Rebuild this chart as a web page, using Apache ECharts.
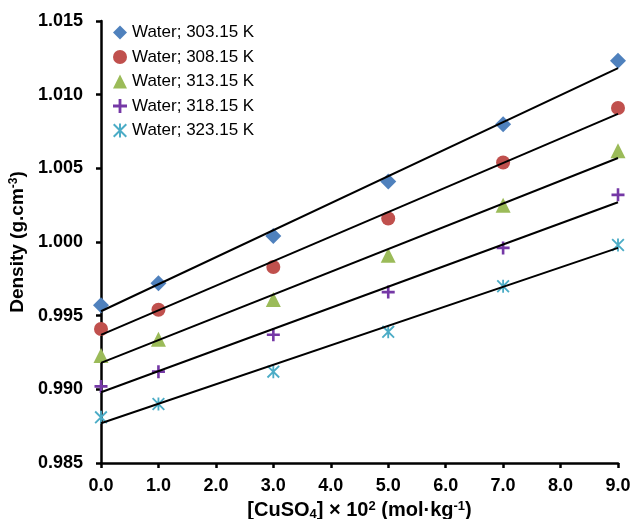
<!DOCTYPE html>
<html>
<head>
<meta charset="utf-8">
<title>Density vs CuSO4</title>
<script src="https://cdn.jsdelivr.net/npm/echarts@6/dist/echarts.min.js"></script>
<style>
  html, body { margin: 0; padding: 0; background: #fff; }
  #chart { width: 634px; height: 519px; }
</style>
</head>
<body>
<div id="chart"></div>
<script>
// molality of CuSO4 (x 10^2 mol/kg)
var conc = [0, 1, 3, 5, 7, 9]

var names = ['Water; 303.15 K', 'Water; 308.15 K', 'Water; 313.15 K', 'Water; 318.15 K', 'Water; 323.15 K']

// density values (g/cm3)
var d303 = [0.9957, 0.9972, 1.0004, 1.0041, 1.0080, 1.0123]
var d308 = [0.9941, 0.9954, 0.9983, 1.0016, 1.0054, 1.0091]
var d313 = [0.9923, 0.9934, 0.9961, 0.9991, 1.0025, 1.0062]
var d318 = [0.9902, 0.9912, 0.9937, 0.9966, 0.9996, 1.0032]
var d323 = [0.9881, 0.9890, 0.9912, 0.9939, 0.9970, 0.9998]

// linear trendlines, value at x = 0 and x = 9
var fitX = [0, 9]
var fit303 = [0.9953, 1.0118]
var fit308 = [0.9937, 1.0087]
var fit313 = [0.9918, 1.0057]
var fit318 = [0.9898, 1.0027]
var fit323 = [0.9877, 0.9996]

var colors = ['#4F81BD', '#C0504D', '#9BBB59', '#7538A6', '#4BACC6']
var plusPath = 'path://M4,0H6V4H10V6H6V10H4V6H0V4H4Z'
var starPath = 'path://M0,1L1,0L10,9L9,10Z M9,0L10,1L1,10L0,9Z M4.3,0H5.7V10H4.3Z'
var symbols = ['diamond', 'circle', 'triangle', plusPath, starPath]
var sizes = [16, 14, 15, 13, 13]

var allData = [d303, d308, d313, d318, d323]
var allFits = [fit303, fit308, fit313, fit318, fit323]

function pairs(xs, ys) {
  return xs.map(function (x, i) { return [x, ys[i]] })
}

var series = []
allData.forEach(function (d, i) {
  series.push({
    name: names[i],
    type: 'scatter',
    data: pairs(conc, d),
    symbol: symbols[i],
    symbolSize: sizes[i],
    itemStyle: { color: colors[i], opacity: 1 },
    z: 2
  })
})
allFits.forEach(function (f, i) {
  series.push({
    name: 'fit' + i,
    type: 'line',
    data: pairs(fitX, f),
    showSymbol: false,
    silent: true,
    lineStyle: { color: '#000', width: 2 },
    z: 3
  })
})

var chart = echarts.init(document.getElementById('chart'))
chart.setOption({
  animation: false,
  textStyle: { fontFamily: 'Liberation Sans, Arial, sans-serif' },
  grid: { left: 101, right: 16, top: 21, bottom: 56, outerBoundsMode: 'none' },
  legend: {
    data: names,
    orient: 'vertical',
    left: 113,
    top: 24,
    padding: 0,
    itemWidth: 14,
    itemHeight: 14,
    itemGap: 7.5,
    textStyle: { fontSize: 17, color: '#000' }
  },
  xAxis: {
    type: 'value',
    min: 0,
    max: 9,
    interval: 1,
    name: '{t|[CuSO}{sub|4}{t|] × 10}{sup|2}{t| (mol·kg}{sup|-1}{t|)}',
    nameLocation: 'middle',
    nameGap: 34,
    nameTextStyle: {
      rich: {
        t: { fontSize: 20, fontWeight: 'bold', color: '#000', fontFamily: 'Liberation Sans' },
        sub: { fontSize: 13, fontWeight: 'bold', color: '#000', verticalAlign: 'bottom', padding: [8, 0, 0, 0], fontFamily: 'Liberation Sans' },
        sup: { fontSize: 13, fontWeight: 'bold', color: '#000', verticalAlign: 'top', padding: [0, 0, 8, 0], fontFamily: 'Liberation Sans' }
      }
    },
    axisLine: { lineStyle: { color: '#000', width: 2.5 } },
    axisTick: { lineStyle: { color: '#000', width: 2.5 }, length: 5 },
    axisLabel: {
      margin: 14,
      fontSize: 18,
      fontWeight: 'bold',
      color: '#000',
      formatter: function (v) { return v.toFixed(1) }
    },
    splitLine: { show: false }
  },
  yAxis: {
    type: 'value',
    min: 0.985,
    max: 1.015,
    interval: 0.005,
    name: '{t|Density (g.cm}{sup|-3}{t|)}',
    nameLocation: 'middle',
    nameGap: 62,
    nameTextStyle: {
      rich: {
        t: { fontSize: 19, fontWeight: 'bold', color: '#000', fontFamily: 'Liberation Sans' },
        sup: { fontSize: 12, fontWeight: 'bold', color: '#000', verticalAlign: 'top', padding: [0, 0, 8, 0], fontFamily: 'Liberation Sans' }
      }
    },
    axisLine: { show: true, lineStyle: { color: '#000', width: 2.5 } },
    axisTick: { show: true, lineStyle: { color: '#000', width: 2.5 }, length: 5 },
    axisLabel: {
      margin: 18,
      fontSize: 18,
      fontWeight: 'bold',
      color: '#000',
      formatter: function (v) { return v.toFixed(3) }
    },
    splitLine: { show: false }
  },
  series: series
})
</script>
</body>
</html>
